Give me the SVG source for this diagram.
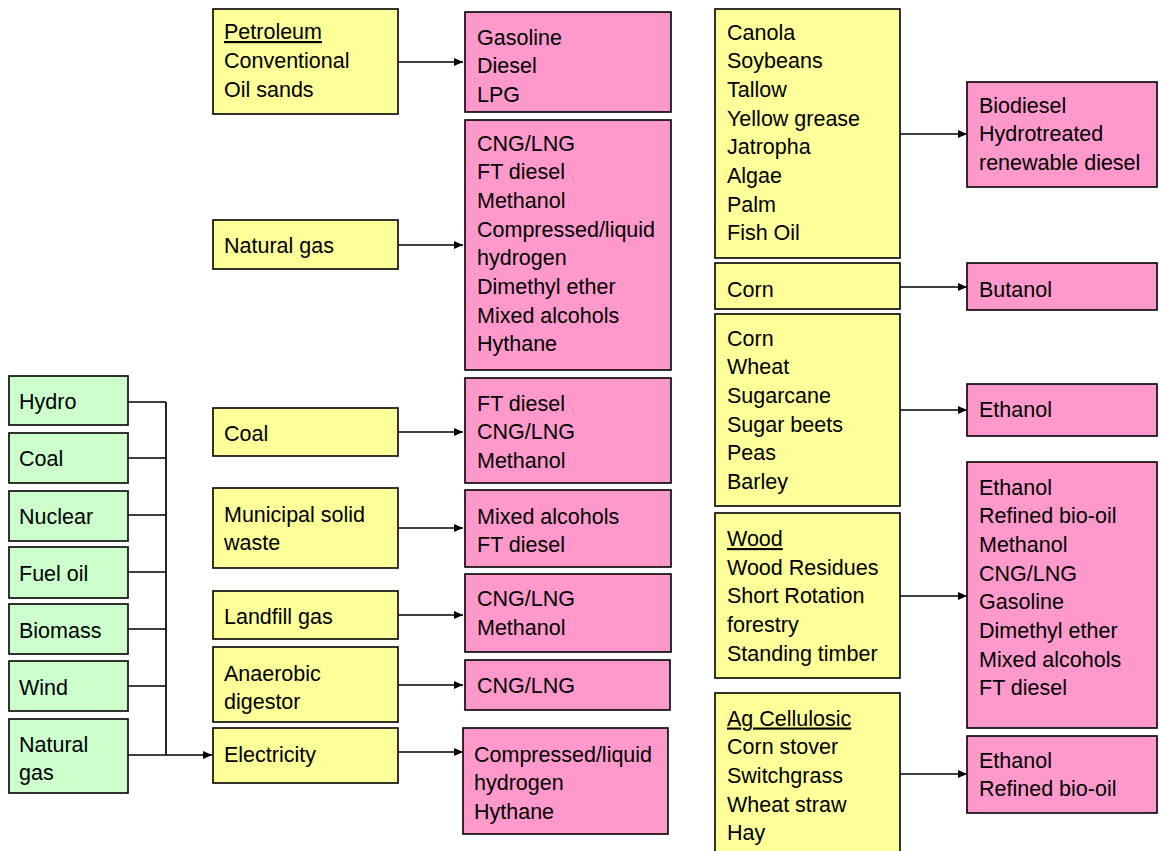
<svg xmlns="http://www.w3.org/2000/svg" width="1161" height="851" viewBox="0 0 1161 851">
<style>
.y,.p,.g{stroke:#000;stroke-width:1.6}
.y{fill:#FFFF99}.p{fill:#FF99CC}.g{fill:#CCFFCC}
text{font-family:"Liberation Sans",Arial,sans-serif;font-size:21.5px;fill:#000}
.u{text-decoration:underline}
.c path{fill:none;stroke:#000;stroke-width:1.7}
</style>
<defs><marker id="a" markerWidth="9" markerHeight="8" refX="9" refY="4" orient="auto" markerUnits="userSpaceOnUse"><path d="M0,0 L9,4 L0,8 Z" fill="#000"/></marker></defs>
<rect width="1161" height="851" fill="#fff"/>
<g class="c">
<path d="M128,402H166M128,458H166M128,515H166M128,572H166M128,629H166M128,686H166M166,402V755"/>
<path d="M128,755H212" marker-end="url(#a)"/>
<path d="M398,62H463" marker-end="url(#a)"/>
<path d="M398,245H463" marker-end="url(#a)"/>
<path d="M398,432H463" marker-end="url(#a)"/>
<path d="M398,528H463" marker-end="url(#a)"/>
<path d="M398,615H463" marker-end="url(#a)"/>
<path d="M398,685H463" marker-end="url(#a)"/>
<path d="M398,752H463" marker-end="url(#a)"/>
<path d="M900,134H967" marker-end="url(#a)"/>
<path d="M900,287H967" marker-end="url(#a)"/>
<path d="M900,410H967" marker-end="url(#a)"/>
<path d="M900,596H967" marker-end="url(#a)"/>
<path d="M900,774H967" marker-end="url(#a)"/>
</g>
<g id="hydro"><rect class="g" x="9" y="376" width="119" height="49"/><text x="19" y="408.5">Hydro</text></g>
<g id="coal-e"><rect class="g" x="9" y="433" width="119" height="50"/><text x="19" y="465.5">Coal</text></g>
<g id="nuclear"><rect class="g" x="9" y="491" width="119" height="50"/><text x="19" y="523.5">Nuclear</text></g>
<g id="fueloil"><rect class="g" x="9" y="547" width="119" height="51"/><text x="19" y="580.5">Fuel oil</text></g>
<g id="biomass"><rect class="g" x="9" y="604" width="119" height="50"/><text x="19" y="637.5">Biomass</text></g>
<g id="wind"><rect class="g" x="9" y="661" width="119" height="50"/><text x="19" y="694.5">Wind</text></g>
<g id="natgas-e"><rect class="g" x="9" y="719" width="119" height="74"/><text x="19" y="751.5">Natural</text><text x="19" y="779.5">gas</text></g>

<g id="petroleum"><rect class="y" x="213" y="9" width="185" height="105"/><text x="224" y="39" class="u">Petroleum</text><text x="224" y="68">Conventional</text><text x="224" y="97">Oil sands</text></g>
<g id="natgas"><rect class="y" x="213" y="220" width="185" height="49"/><text x="224" y="252.5">Natural gas</text></g>
<g id="coal"><rect class="y" x="213" y="408" width="185" height="48"/><text x="224" y="440.5">Coal</text></g>
<g id="msw"><rect class="y" x="213" y="488" width="185" height="80"/><text x="224" y="521.5">Municipal solid</text><text x="224" y="550">waste</text></g>
<g id="landfill"><rect class="y" x="213" y="591" width="185" height="48"/><text x="224" y="623.5">Landfill gas</text></g>
<g id="anaerobic"><rect class="y" x="213" y="647" width="185" height="75"/><text x="224" y="680.5">Anaerobic</text><text x="224" y="709">digestor</text></g>
<g id="electricity"><rect class="y" x="213" y="728" width="185" height="55"/><text x="224" y="761.5">Electricity</text></g>

<g id="out-petroleum"><rect class="p" x="465" y="12" width="206" height="100"/><text x="477" y="44.5">Gasoline</text><text x="477" y="73">Diesel</text><text x="477" y="101.5">LPG</text></g>
<g id="out-natgas"><rect class="p" x="465" y="120" width="206" height="250"/><text x="477" y="150.5">CNG/LNG</text><text x="477" y="179.2">FT diesel</text><text x="477" y="207.9">Methanol</text><text x="477" y="236.6">Compressed/liquid</text><text x="477" y="265.3">hydrogen</text><text x="477" y="294">Dimethyl ether</text><text x="477" y="322.7">Mixed alcohols</text><text x="477" y="351.4">Hythane</text></g>
<g id="out-coal"><rect class="p" x="465" y="378" width="206" height="105"/><text x="477" y="410.5">FT diesel</text><text x="477" y="439">CNG/LNG</text><text x="477" y="467.5">Methanol</text></g>
<g id="out-msw"><rect class="p" x="465" y="490" width="206" height="77"/><text x="477" y="523.5">Mixed alcohols</text><text x="477" y="552">FT diesel</text></g>
<g id="out-landfill"><rect class="p" x="465" y="574" width="206" height="78"/><text x="477" y="605.5">CNG/LNG</text><text x="477" y="634.5">Methanol</text></g>
<g id="out-anaerobic"><rect class="p" x="465" y="660" width="205" height="50"/><text x="477" y="692.5">CNG/LNG</text></g>
<g id="out-electricity"><rect class="p" x="463" y="728" width="205" height="106"/><text x="474" y="761.5">Compressed/liquid</text><text x="474" y="790">hydrogen</text><text x="474" y="818.5">Hythane</text></g>

<g id="oilseeds"><rect class="y" x="715" y="9" width="185" height="249"/><text x="727" y="39.5">Canola</text><text x="727" y="68.2">Soybeans</text><text x="727" y="96.9">Tallow</text><text x="727" y="125.6">Yellow grease</text><text x="727" y="154.3">Jatropha</text><text x="727" y="183">Algae</text><text x="727" y="211.7">Palm</text><text x="727" y="240.4">Fish Oil</text></g>
<g id="corn"><rect class="y" x="715" y="263" width="185" height="46"/><text x="727" y="296.5">Corn</text></g>
<g id="grains"><rect class="y" x="715" y="314" width="185" height="192"/><text x="727" y="345.5">Corn</text><text x="727" y="374.2">Wheat</text><text x="727" y="402.9">Sugarcane</text><text x="727" y="431.6">Sugar beets</text><text x="727" y="460.3">Peas</text><text x="727" y="489">Barley</text></g>
<g id="wood"><rect class="y" x="715" y="513" width="185" height="165"/><text x="727" y="546" class="u">Wood</text><text x="727" y="574.7">Wood Residues</text><text x="727" y="603.4">Short Rotation</text><text x="727" y="632.1">forestry</text><text x="727" y="660.8">Standing timber</text></g>
<g id="ag"><rect class="y" x="715" y="693" width="185" height="170"/><text x="727" y="725.5" class="u">Ag Cellulosic</text><text x="727" y="754.2">Corn stover</text><text x="727" y="782.9">Switchgrass</text><text x="727" y="811.6">Wheat straw</text><text x="727" y="840.3">Hay</text></g>

<g id="out-oilseeds"><rect class="p" x="967" y="82" width="190" height="105"/><text x="979" y="112.5">Biodiesel</text><text x="979" y="141.2">Hydrotreated</text><text x="979" y="169.9">renewable diesel</text></g>
<g id="out-corn"><rect class="p" x="967" y="263" width="190" height="47"/><text x="979" y="296.5">Butanol</text></g>
<g id="out-grains"><rect class="p" x="967" y="384" width="190" height="52"/><text x="979" y="416.5">Ethanol</text></g>
<g id="out-wood"><rect class="p" x="967" y="462" width="190" height="266"/><text x="979" y="494.5">Ethanol</text><text x="979" y="523.2">Refined bio-oil</text><text x="979" y="551.9">Methanol</text><text x="979" y="580.6">CNG/LNG</text><text x="979" y="609.3">Gasoline</text><text x="979" y="638">Dimethyl ether</text><text x="979" y="666.7">Mixed alcohols</text><text x="979" y="695.4">FT diesel</text></g>
<g id="out-ag"><rect class="p" x="967" y="736" width="190" height="77"/><text x="979" y="767.5">Ethanol</text><text x="979" y="796.2">Refined bio-oil</text></g>
</svg>
